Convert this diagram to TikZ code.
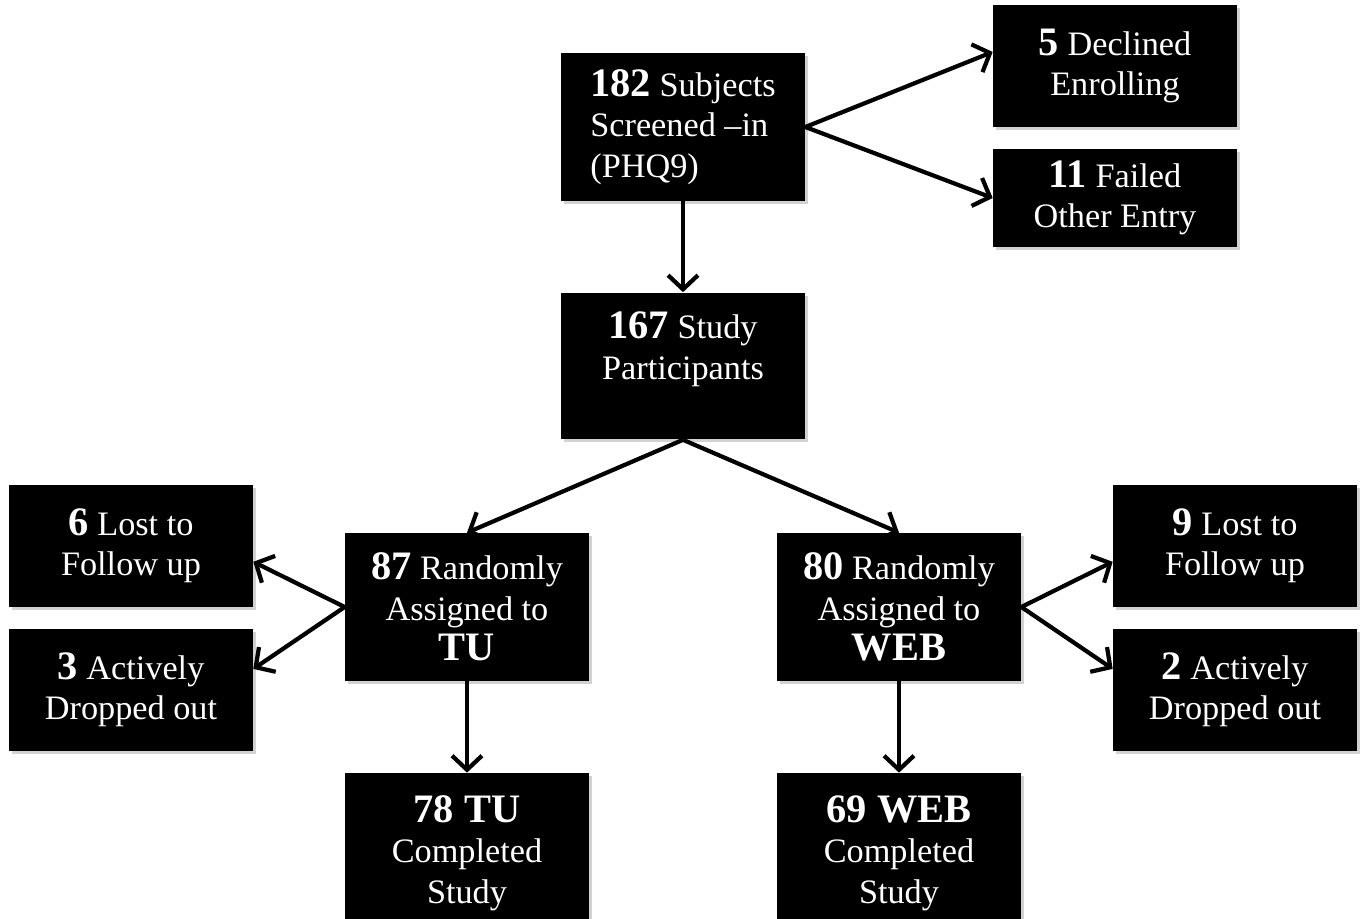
\documentclass[tikz,border=0pt]{standalone}
\usepackage{fontspec}
\setmainfont{Liberation Serif}
\usetikzlibrary{arrows.meta,shadows}

\tikzset{
  box/.style={fill=black, text=white, minimum width=4.88cm, align=center, inner sep=2pt,
    font=\fontsize{19.5}{23}\selectfont,
    drop shadow={opacity=.35, shadow xshift=.6mm, shadow yshift=-.6mm}},
  arr/.style={-{Straight Barb[length=8pt,width=17pt]}, line width=2.4pt}
}
\newcommand{\num}[1]{{\fontsize{23}{23}\selectfont\bfseries #1}}

\begin{document}
\begin{tikzpicture}[x=0.02cm, y=-0.02cm]
\clip (0,0) rectangle (1366,919);
\fill[white] (0,0) rectangle (1366,919);

% Screening
\node[box, minimum height=2.96cm, align=left] (screen) at (683,127) {\num{182} Subjects\\Screened --in\\(PHQ9)};
\node[box, minimum height=2.46cm] (declined) at (1115,66) {\num{5} Declined\\Enrolling};
\node[box, minimum height=1.98cm] (failed) at (1115,198) {\num{11} Failed\\Other Entry};
\node[box, minimum height=2.94cm] (part) at (683,366) {\num{167} Study\\Participants\\\mbox{}};

% TU arm
\node[box, minimum height=2.96cm] (tu) at (467,607) {\num{87} Randomly\\Assigned to\\\num{TU}};
\node[box, minimum height=2.46cm] (tulost) at (131,546) {\num{6} Lost to\\Follow up};
\node[box, minimum height=2.46cm] (tudrop) at (131,690) {\num{3} Actively\\Dropped out};
\node[box, minimum height=3.2cm] (tudone) at (467,853) {\num{78 TU}\\Completed\\Study};

% WEB arm
\node[box, minimum height=2.96cm] (web) at (899,607) {\num{80} Randomly\\Assigned to\\\num{WEB}};
\node[box, minimum height=2.46cm] (weblost) at (1235,546) {\num{9} Lost to\\Follow up};
\node[box, minimum height=2.46cm] (webdrop) at (1235,690) {\num{2} Actively\\Dropped out};
\node[box, minimum height=3.2cm] (webdone) at (899,853) {\num{69 WEB}\\Completed\\Study};

% Arrows
\draw[arr] (screen.east) -- ([yshift=8]declined.west);
\draw[arr] (screen.east) -- (failed.west);
\draw[arr] (screen.south) -- (part.north);
\draw[arr] (part.south) -- (tu.north);
\draw[arr] (part.south) -- (web.north);
\draw[arr] (tu.west) -- ([yshift=-9]tulost.east);
\draw[arr] (tu.west) -- ([yshift=12]tudrop.east);
\draw[arr] (web.east) -- ([yshift=-9]weblost.west);
\draw[arr] (web.east) -- ([yshift=12]webdrop.west);
\draw[arr] (tu.south) -- (tudone.north);
\draw[arr] (web.south) -- (webdone.north);

\end{tikzpicture}
\end{document}
